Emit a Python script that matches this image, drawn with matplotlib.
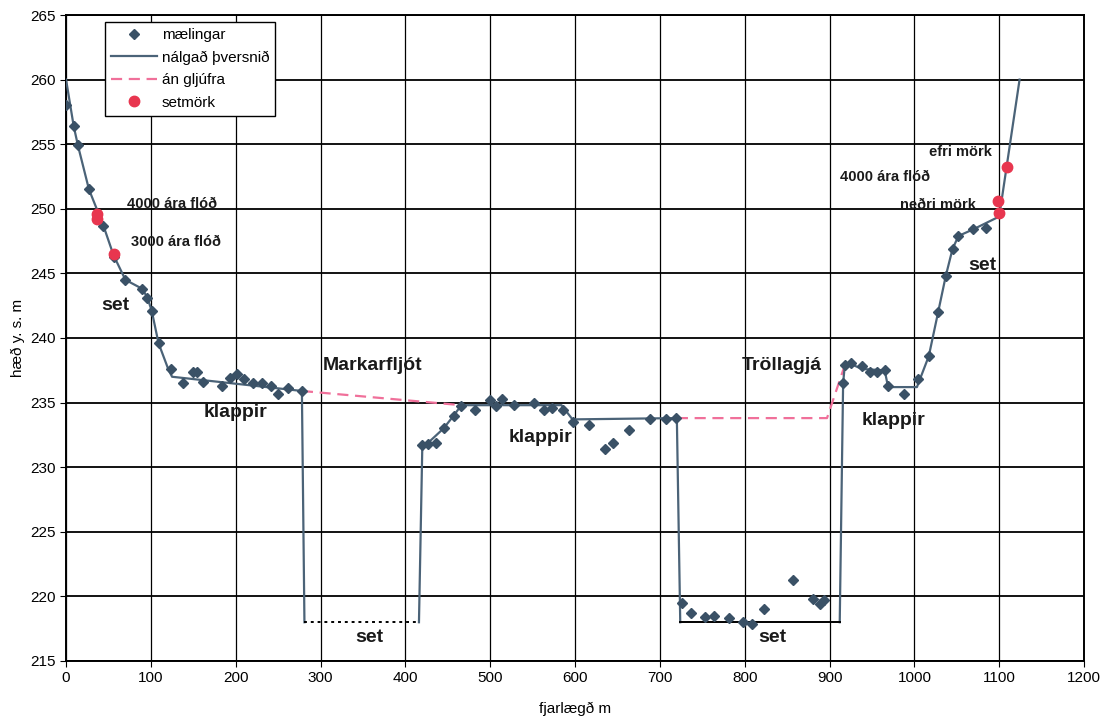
import numpy as np
import matplotlib
matplotlib.use("Agg")
import matplotlib.pyplot as plt

plt.rcParams['font.family'] = ['Liberation Sans', 'DejaVu Sans']

# mælingar (measured points)
maeling_x = [0, 9, 14, 27, 44, 56, 70, 90, 96, 101, 109, 124, 138, 150, 154, 162, 184,
             193, 201, 210, 220, 231, 241, 250, 262, 278,
             420, 427, 436, 445, 457, 466, 482, 500, 507, 514, 528, 552, 563, 573, 586,
             597, 617, 635, 645, 664, 688, 707, 719,
             726, 737, 753, 764, 782, 798, 808, 823, 857, 880, 889, 893,
             916, 918, 925, 938, 948, 956, 965, 969, 988, 1004, 1017, 1028, 1037,
             1045, 1051, 1069, 1085]
maeling_y = [258.0, 256.4, 254.9, 251.5, 248.7, 246.3, 244.5, 243.8, 243.1, 242.1, 239.6,
             237.6, 236.5, 237.4, 237.4, 236.6, 236.3, 236.9, 237.2, 236.8, 236.5, 236.5,
             236.3, 235.7, 236.1, 235.9,
             231.7, 231.8, 231.9, 233.0, 234.0, 234.7, 234.4, 235.2, 234.7, 235.3, 234.8,
             235.0, 234.4, 234.6, 234.4, 233.5, 233.3, 231.4, 231.9, 232.9, 233.7, 233.7,
             233.8,
             219.5, 218.7, 218.4, 218.5, 218.3, 218.0, 217.9, 219.0, 221.3, 219.8, 219.4,
             219.7,
             236.5, 237.9, 238.1, 237.8, 237.4, 237.4, 237.5, 236.3, 235.7, 236.8, 238.6,
             242.0, 244.8, 246.9, 247.9, 248.4, 248.5]

# nálgað þversnið (approximated cross section), split at the gorge bottoms
snid1_x = [0, 9, 14, 27, 44, 56, 70, 90, 96, 101, 109, 121, 125, 278, 281]
snid1_y = [260.0, 256.4, 254.9, 251.5, 248.7, 246.4, 244.5, 243.8, 243.1, 242.1, 239.6,
           237.5, 237.0, 235.9, 218.0]
snid2_x = [416, 420, 427, 445, 457, 466, 584, 597, 720, 724]
snid2_y = [218.0, 231.8, 231.9, 233.0, 234.0, 234.8, 234.8, 233.7, 233.8, 218.0]
snid3_x = [912, 916, 918, 925, 938, 965, 969, 1003, 1017, 1028, 1037, 1045, 1052, 1069,
           1100, 1124]
snid3_y = [218.0, 236.5, 237.9, 238.0, 237.6, 237.5, 236.2, 236.2, 238.6, 242.0, 244.8,
           246.9, 247.9, 248.4, 249.4, 260.0]

botn_mark_x = [281, 416]
botn_mark_y = [218.0, 218.0]
botn_troll_x = [724, 912]
botn_troll_y = [218.0, 218.0]

# án gljúfra (without gorges)
an1_x = [278, 466]
an1_y = [235.9, 234.8]
an2_x = [720, 897, 918]
an2_y = [233.8, 233.8, 237.9]

# setmörk
setmork_x = [36, 37, 56, 1099, 1100, 1109]
setmork_y = [249.6, 249.2, 246.5, 250.6, 249.7, 253.2]

blue = '#4b6378'
dblue = '#3a5166'
pink = '#f0709a'
red = '#e8364f'

fig = plt.figure(figsize=(11.01, 7.18), dpi=100)
ax = fig.add_axes([0.06, 0.0794, 0.9246, 0.8997])

ax.plot(an1_x, an1_y, color=pink, ls=(0, (5, 3)), lw=1.6, zorder=2)
ax.plot(an2_x, an2_y, color=pink, ls=(0, (5, 3)), lw=1.6, zorder=2,
        label='án gljúfra')

ax.plot(snid1_x, snid1_y, color=blue, lw=1.6, zorder=3, label='nálgað þversnið')
ax.plot(snid2_x, snid2_y, color=blue, lw=1.6, zorder=3)
ax.plot(snid3_x, snid3_y, color=blue, lw=1.6, zorder=3)
ax.plot(botn_mark_x, botn_mark_y, color='black', ls=(0, (1.5, 2)), lw=1.4, zorder=3)
ax.plot(botn_troll_x, botn_troll_y, color='black', lw=1.4, zorder=3)

ax.plot(maeling_x, maeling_y, ls='none', marker='D', ms=5.5, color=dblue, zorder=4,
        label='mælingar')
ax.plot(setmork_x, setmork_y, ls='none', marker='o', ms=7.5, color=red, zorder=5,
        label='setmörk')

ax.set_xlim(0, 1200)
ax.set_ylim(215, 265)
ax.set_xticks(np.arange(0, 1201, 100))
ax.set_yticks(np.arange(215, 266, 5))
ax.xaxis.grid(True, color='black', lw=0.9)
ax.yaxis.grid(True, color='black', lw=1.3)
ax.set_axisbelow(True)
ax.tick_params(labelsize=11, length=4, color='black')
for s in ax.spines.values():
    s.set_linewidth(1.4)
ax.set_xlabel('fjarlægð m', fontsize=11, labelpad=12)
ax.set_ylabel('hæð y. s. m', fontsize=11, labelpad=4)

handles, labels = ax.get_legend_handles_labels()
order = [labels.index(l) for l in ['mælingar', 'nálgað þversnið', 'án gljúfra', 'setmörk']]
leg = ax.legend([handles[i] for i in order], [labels[i] for i in order],
                loc='upper left', bbox_to_anchor=(0.0383, 0.989), borderaxespad=0,
                fontsize=11, fancybox=False, framealpha=1, edgecolor='black',
                handlelength=3.0, handletextpad=0.3, borderpad=0.4, labelspacing=0.55)
leg.get_frame().set_linewidth(1.0)

bold = dict(fontweight='bold', color='#1a1a1a')
ax.text(72, 250.4, '4000 ára flóð', fontsize=10.5, ha='left', va='center', **bold)
ax.text(77, 247.4, '3000 ára flóð', fontsize=10.5, ha='left', va='center', **bold)
ax.text(58, 242.5, 'set', fontsize=14, ha='center', va='center', **bold)
ax.text(200, 234.2, 'klappir', fontsize=14, ha='center', va='center', **bold)
ax.text(361, 237.9, 'Markarfljót', fontsize=14, ha='center', va='center', **bold)
ax.text(358, 216.8, 'set', fontsize=14, ha='center', va='center', **bold)
ax.text(559, 232.3, 'klappir', fontsize=14, ha='center', va='center', **bold)
ax.text(844, 237.9, 'Tröllagjá', fontsize=14, ha='center', va='center', **bold)
ax.text(832, 216.8, 'set', fontsize=14, ha='center', va='center', **bold)
ax.text(975, 233.65, 'klappir', fontsize=14, ha='center', va='center', **bold)
ax.text(1080, 245.65, 'set', fontsize=14, ha='center', va='center', **bold)
ax.text(1054, 254.4, 'efri mörk', fontsize=10.5, ha='center', va='center', **bold)
ax.text(966, 252.5, '4000 ára flóð', fontsize=10.5, ha='center', va='center', **bold)
ax.text(1028, 250.3, 'neðri mörk', fontsize=10.5, ha='center', va='center', **bold)

fig.savefig('out.png', dpi=100)
